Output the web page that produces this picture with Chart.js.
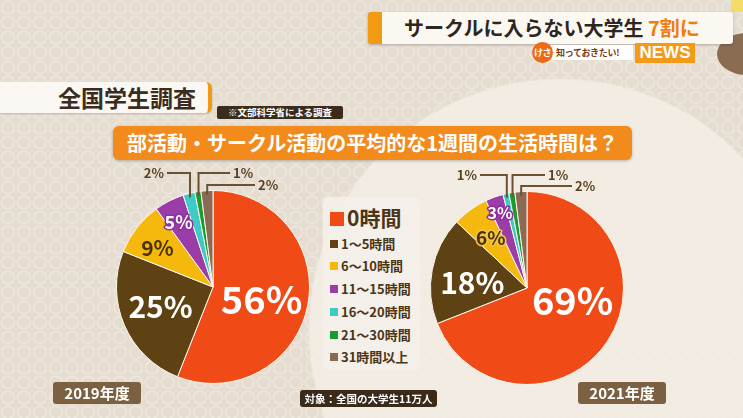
<!DOCTYPE html>
<html>
<head>
<meta charset="utf-8">
<script src="https://cdn.jsdelivr.net/npm/chart.js@4/dist/chart.umd.min.js"></script>
<style>
  body { margin: 0; }
  #stage {
    position: relative; width: 743px; height: 418px; overflow: hidden;
    font-family: "Noto Sans CJK JP", "Noto Sans", sans-serif;
    background-color: #e6ddd1;
    background-image:
      radial-gradient(circle at 560px 330px, rgba(245,240,232,0.75) 0, rgba(245,240,232,0.75) 250px, rgba(245,240,232,0) 252px),
      radial-gradient(circle, rgba(0,0,0,0) 5px, rgba(255,255,255,0.35) 6px, rgba(0,0,0,0) 7.5px);
    background-size: 743px 418px, 16px 15px;
  }
  .abs { position: absolute; white-space: nowrap; }
  .topbar { left: 368px; top: 12px; width: 365px; height: 32px; background: #fbf8f2; border-radius: 3px;
    box-shadow: 0 1px 3px rgba(0,0,0,0.25); border-left: 14px solid #f29a12; box-sizing: border-box;
    font-size: 20px; font-weight: 700; color: #2e2620; line-height: 32px; padding-left: 22px; }
  .topbar span { color: #ef7d10; }
  .kesa { left: 532px; top: 42px; width: 21px; height: 21px; border-radius: 50%; background: #ee6a16;
    color: #fff; font-size: 9px; font-weight: 700; line-height: 21px; text-align: center; letter-spacing: -0.5px; }
  .shiru { left: 550px; top: 45px; width: 83px; height: 15px; background: #fff; font-size: 9px; font-weight: 700;
    color: #7a3b12; line-height: 15px; padding-left: 6px; box-sizing: border-box; letter-spacing: -0.3px; }
  .news { left: 635px; top: 43px; width: 60px; height: 20px; background: #f39a18; color: #fff;
    font-family: "Liberation Sans", sans-serif; font-weight: 700; font-size: 17px; line-height: 20px; text-align: center; }
  .wood { left: 717px; top: 33px; width: 60px; height: 42px; border-radius: 50%; background: #8a6c52; }
  .yellow { left: 731px; top: 0; width: 12px; height: 12px; background: #f3dc6a; }
  .survey { left: 0; top: 82px; width: 212px; height: 31px; background: #fbf8f3; border-radius: 0 6px 6px 0;
    border-right: 4px solid #f29a12; box-sizing: border-box; font-size: 23px; font-weight: 700; color: #3a2c1e;
    line-height: 31px; text-align: right; padding-right: 12px; box-shadow: 0 1px 2px rgba(0,0,0,0.2); }
  .source { left: 217px; top: 106px; width: 126px; height: 13px; background: #3c2c1c; border-radius: 2px;
    color: #fff; font-size: 9.5px; font-weight: 700; line-height: 13px; text-align: center; }
  .question { left: 113px; top: 126px; width: 519px; height: 34px; background: #f28a1c; border-radius: 6px;
    color: #fff; font-size: 20px; font-weight: 700; line-height: 34px; text-align: center;
    box-shadow: 0 1px 3px rgba(0,0,0,0.25); }
  .legend { left: 323px; top: 197px; width: 97px; height: 173px; background: rgba(244,240,234,0.9); border-radius: 6px; }
  .legend .row { position: absolute; left: 7px; font-weight: 700; color: #4b3517; white-space: nowrap; }
  .legend .sw { display: inline-block; vertical-align: middle; }
  .year { width: 88px; height: 22px; background: #7b6142; border-radius: 3px; color: #fff; font-size: 15px;
    font-weight: 700; line-height: 22px; text-align: center; top: 382px; }
  .target { left: 300px; top: 390px; width: 137px; height: 17px; background: #3a2a1a; border-radius: 3px;
    color: #fff; font-size: 10.5px; font-weight: 700; line-height: 17px; text-align: center; }
  canvas { position: absolute; }
</style>
</head>
<body>
<div id="stage">
  <div class="abs yellow"></div>
  <div class="abs wood"></div>
  <div class="abs topbar">サークルに入らない大学生 <span>7割に</span></div>
  <div class="abs shiru">知っておきたい!</div>
  <div class="abs kesa">けさ</div>
  <div class="abs news">NEWS</div>
  <div class="abs survey">全国学生調査</div>
  <div class="abs source">※文部科学省による調査</div>
  <div class="abs question">部活動・サークル活動の平均的な1週間の生活時間は？</div>
  <div class="abs legend" id="legend"></div>
  <canvas id="pie2019" width="240" height="240" style="left:93px;top:160px"></canvas>
  <canvas id="pie2021" width="240" height="240" style="left:407px;top:160px"></canvas>
  <div class="abs year" style="left:53px">2019年度</div>
  <div class="abs year" style="left:578px">2021年度</div>
  <div class="abs target">対象：全国の大学生11万人</div>
</div>
<script>
// hours per week spent on club / circle activities
var categories = ['0時間', '1～5時間', '6～10時間', '11～15時間', '16～20時間', '21～30時間', '31時間以上'];
var share2019 = [56, 25, 9, 5, 2, 1, 2];
var share2021 = [69, 18, 6, 3, 1, 1, 2];
var sliceColors = ['#f04b17', '#5e4214', '#f5b80c', '#9a3da8', '#3ecbc6', '#1f9a2c', '#8a6a52'];

var numFont = '"Noto Sans CJK JP", sans-serif';

// legend (html, built from categories)
var legend = document.getElementById('legend');
var rowTops = [8, 39, 61, 84, 107, 130, 152];
categories.forEach(function (c, i) {
    var row = document.createElement('div');
    row.className = 'row';
    row.style.top = rowTops[i] + 'px';
    var big = i === 0;
    row.style.fontSize = big ? '21px' : '13px';
    row.style.lineHeight = big ? '24px' : '16px';
    row.innerHTML = '<span class="sw" style="width:' + (big ? 14 : 8) + 'px;height:' + (big ? 14 : 8) +
        'px;background:' + sliceColors[i] + ';margin-right:3px;margin-top:-3px"></span>' + c;
    legend.appendChild(row);
});

// draws percentages inside slices and leader-line labels for the thin ones
var sliceLabels = {
    id: 'sliceLabels',
    afterDatasetsDraw: function (chart, args, opts) {
        var ctx = chart.ctx;
        var meta = chart.getDatasetMeta(0);
        var values = chart.data.datasets[0].data;
        meta.data.forEach(function (arc, i) {
            var p = arc.getProps(['x', 'y', 'startAngle', 'endAngle', 'outerRadius'], true);
            var mid = (p.startAngle + p.endAngle) / 2;
            var text = values[i] + '%';
            var inner = opts.inner[i];
            if (inner) {
                var a = mid + inner.da * Math.PI / 180;
                var r = p.outerRadius * inner.r;
                var x = p.x + Math.cos(a) * r, y = p.y + Math.sin(a) * r;
                ctx.save();
                ctx.font = 'bold ' + inner.size + 'px ' + numFont;
                ctx.textAlign = 'center';
                ctx.textBaseline = 'middle';
                if (inner.stroke) {
                    ctx.lineWidth = 3;
                    ctx.lineJoin = 'round';
                    ctx.strokeStyle = inner.stroke;
                    ctx.strokeText(text, x, y);
                }
                ctx.fillStyle = inner.color;
                ctx.fillText(text, x, y);
                ctx.restore();
            }
            var outer = opts.outer[i];
            if (outer) {
                var ax = p.x + Math.cos(mid) * (p.outerRadius - 4);
                var ay = p.y + Math.sin(mid) * (p.outerRadius - 4);
                var ly = p.y + outer.ly;
                var lx = p.x + outer.lx;
                ctx.save();
                ctx.strokeStyle = '#6a5232';
                ctx.lineWidth = 2;
                ctx.beginPath();
                ctx.moveTo(ax, ay);
                ctx.lineTo(ax, ly);
                ctx.lineTo(lx, ly);
                ctx.stroke();
                ctx.font = 'bold 13px ' + numFont;
                ctx.fillStyle = '#5a4020';
                ctx.textBaseline = 'middle';
                ctx.textAlign = outer.lx < 0 ? 'right' : 'left';
                ctx.fillText(text, lx + (outer.lx < 0 ? -3 : 3), ly);
                ctx.restore();
            }
        });
    }
};

function makePie(id, values, padding, inner, outer) {
    return new Chart(document.getElementById(id).getContext('2d'), {
        type: 'pie',
        data: {
            labels: categories,
            datasets: [{
                data: values,
                backgroundColor: sliceColors,
                borderColor: '#fbf6ee',
                borderWidth: 1
            }]
        },
        options: {
            responsive: false,
            animation: false,
            layout: { padding: padding },
            plugins: {
                legend: { display: false },
                tooltip: { enabled: false },
                sliceLabels: { inner: inner, outer: outer }
            }
        },
        plugins: [sliceLabels]
    });
}

makePie('pie2019', share2019, { top: 30, bottom: 16, left: 22, right: 22 },
    [
        { r: 0.52, da: 4, size: 38, color: '#ffffff' },
        { r: 0.58, da: 3, size: 30, color: '#ffffff' },
        { r: 0.70, da: -3, size: 21, color: '#4a3210' },
        { r: 0.76, da: -1, size: 18, color: '#ffffff', stroke: '#8e2f9c' }
    ],
    [null, null, null, null,
        { ly: -114, lx: -46 },
        { ly: -114, lx: 17 },
        { ly: -102, lx: 42 }]);

makePie('pie2021', share2021, { top: 31, bottom: 15, left: 22, right: 22 },
    [
        { r: 0.49, da: -19, size: 38, color: '#ffffff' },
        { r: 0.57, da: -5, size: 30, color: '#ffffff' },
        { r: 0.64, da: 0, size: 19, color: '#4a3210', stroke: '#f5c542' },
        { r: 0.83, da: 0, size: 16, color: '#ffffff', stroke: '#8e2f9c' }
    ],
    [null, null, null, null,
        { ly: -113, lx: -47 },
        { ly: -113, lx: 18 },
        { ly: -102, lx: 45 }]);
</script>
</body>
</html>
